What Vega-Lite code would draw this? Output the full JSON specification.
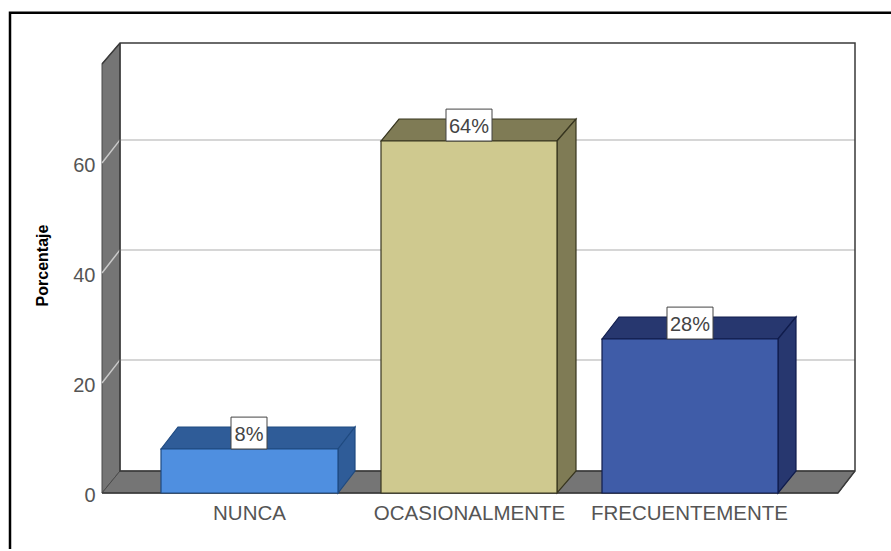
{
"$schema":"https://vega.github.io/schema/vega-lite/v6.json",
"width":753,"height":450,"autosize":"none",
"padding":{"left":102,"top":43,"right":36,"bottom":58},
"background":"white",
"config":{"view":{"stroke":null},"font":"Liberation Sans"},
"datasets":{
"polys":[
{"shape":"wall","part":"wall","x":102,"pct":78,"pct2":0},
{"shape":"wall","part":"wall","x":120,"pct":81.8,"pct2":4},
{"shape":"floor","part":"wall","x":102,"pct":0,"pct2":0},
{"shape":"floor","part":"wall","x":120,"pct":4,"pct2":0},
{"shape":"floor","part":"wall","x":838,"pct":4,"pct2":0},
{"shape":"floor","part":"wall","x":855,"pct":4,"pct2":4},
{"shape":"NUNCA top","part":"NUNCA dark","x":161,"pct":8,"pct2":8},
{"shape":"NUNCA top","part":"NUNCA dark","x":178,"pct":12,"pct2":8},
{"shape":"NUNCA top","part":"NUNCA dark","x":338,"pct":12,"pct2":8},
{"shape":"NUNCA top","part":"NUNCA dark","x":355,"pct":12,"pct2":12},
{"shape":"NUNCA side","part":"NUNCA dark","x":338,"pct":8,"pct2":0},
{"shape":"NUNCA side","part":"NUNCA dark","x":355,"pct":12,"pct2":4},
{"shape":"NUNCA front","part":"NUNCA","x":161,"pct":8,"pct2":0},
{"shape":"NUNCA front","part":"NUNCA","x":338,"pct":8,"pct2":0},
{"shape":"OCAS top","part":"OCAS dark","x":381,"pct":64,"pct2":64},
{"shape":"OCAS top","part":"OCAS dark","x":399,"pct":68,"pct2":64},
{"shape":"OCAS top","part":"OCAS dark","x":557,"pct":68,"pct2":64},
{"shape":"OCAS top","part":"OCAS dark","x":576,"pct":68,"pct2":68},
{"shape":"OCAS side","part":"OCAS dark","x":557,"pct":64,"pct2":0},
{"shape":"OCAS side","part":"OCAS dark","x":576,"pct":68,"pct2":4},
{"shape":"OCAS front","part":"OCAS","x":381,"pct":64,"pct2":0},
{"shape":"OCAS front","part":"OCAS","x":557,"pct":64,"pct2":0},
{"shape":"FREC top","part":"FREC dark","x":602,"pct":28,"pct2":28},
{"shape":"FREC top","part":"FREC dark","x":619,"pct":32,"pct2":28},
{"shape":"FREC top","part":"FREC dark","x":778,"pct":32,"pct2":28},
{"shape":"FREC top","part":"FREC dark","x":796,"pct":32,"pct2":32},
{"shape":"FREC side","part":"FREC dark","x":778,"pct":28,"pct2":0},
{"shape":"FREC side","part":"FREC dark","x":796,"pct":32,"pct2":4},
{"shape":"FREC front","part":"FREC","x":602,"pct":28,"pct2":0},
{"shape":"FREC front","part":"FREC","x":778,"pct":28,"pct2":0}
],
"grid":[
{"g":"60","i":1,"x":102,"pct":60},{"g":"60","i":2,"x":120,"pct":64.2},{"g":"60","i":3,"x":855,"pct":64.2},
{"g":"40","i":1,"x":102,"pct":40},{"g":"40","i":2,"x":120,"pct":44.2},{"g":"40","i":3,"x":855,"pct":44.2},
{"g":"20","i":1,"x":102,"pct":20},{"g":"20","i":2,"x":120,"pct":24.2},{"g":"20","i":3,"x":855,"pct":24.2}
],
"edges":[
{"g":"back","i":1,"x":102,"pct":78},{"g":"back","i":2,"x":120,"pct":81.8},{"g":"back","i":3,"x":855,"pct":81.8},{"g":"back","i":4,"x":855,"pct":4},{"g":"back","i":5,"x":838,"pct":0},{"g":"back","i":6,"x":102,"pct":0},
{"g":"inner","i":1,"x":120,"pct":81.8},{"g":"inner","i":2,"x":120,"pct":4},{"g":"inner","i":3,"x":855,"pct":4}
],
"frame":[
{"g":"frame","i":1,"x":10,"pct":-10.2},{"g":"frame","i":2,"x":10,"pct":87.3},{"g":"frame","i":3,"x":891,"pct":87.3}
],
"labels":[
{"label":"8%","x":231,"x2":267,"pct":8,"pct2":13.8,"cx":249,"cy":10.6},
{"label":"64%","x":446,"x2":492,"pct":64,"pct2":69.8,"cx":469,"cy":66.6},
{"label":"28%","x":667,"x2":713,"pct":28,"pct2":33.8,"cx":690,"cy":30.6}
]
},
"layer":[
{"data":{"name":"polys"},"transform":[{"filter":"datum.shape=='wall'||datum.shape=='floor'"}],
 "mark":{"type":"area","stroke":"#4a4a4a","strokeWidth":1,"clip":false},
 "encoding":{
  "x":{"field":"x","type":"quantitative","scale":{"domain":[102,855],"nice":false,"zero":false},
   "axis":{"values":[249,469,689],"labelExpr":"datum.value==249?'NUNCA':datum.value==469?'OCASIONALMENTE':'FRECUENTEMENTE'","title":null,"domain":false,"ticks":false,"grid":false,"labelFontSize":20.5,"labelColor":"#555","labelFont":"Liberation Sans","labelPadding":10,"labelBaseline":"top","labelFlush":false,"labelOverlap":false,"labelLimit":400}},
  "y":{"field":"pct","type":"quantitative","scale":{"domain":[0,81.82],"nice":false,"zero":false},
   "axis":{"values":[0,20,40,60],"title":"Porcentaje","titleFontSize":16,"titleFontWeight":"bold","titleColor":"#000","titleFont":"Liberation Sans","titlePadding":22,"titleY":222,"domain":false,"ticks":false,"grid":false,"labelFontSize":20,"labelColor":"#555","labelFont":"Liberation Sans","labelPadding":7,"labelOffset":2,"labelFlush":false}},
  "y2":{"field":"pct2"},
  "detail":{"field":"shape"},
  "color":{"field":"part","type":"nominal","legend":null,"scale":{"domain":["wall","NUNCA","NUNCA dark","OCAS","OCAS dark","FREC","FREC dark"],"range":["#757575","#4f8fe0","#2f5c98","#cfc98f","#7f7b55","#3f5ca8","#27376f"]}}
 }},
{"data":{"name":"grid"},"mark":{"type":"line","stroke":"#c9c9c9","strokeWidth":1.5},
 "encoding":{"x":{"field":"x","type":"quantitative"},"y":{"field":"pct","type":"quantitative"},"detail":{"field":"g"},"order":{"field":"i"}}},
{"data":{"name":"edges"},"mark":{"type":"line","stroke":"#3a3a3a","strokeWidth":1.5},
 "encoding":{"x":{"field":"x","type":"quantitative"},"y":{"field":"pct","type":"quantitative"},"detail":{"field":"g"},"order":{"field":"i"}}},
{"data":{"name":"frame"},"mark":{"type":"line","stroke":"#000","strokeWidth":2.5,"clip":false},
 "encoding":{"x":{"field":"x","type":"quantitative"},"y":{"field":"pct","type":"quantitative"},"detail":{"field":"g"},"order":{"field":"i"}}},
{"data":{"name":"polys"},"transform":[{"filter":"datum.shape!='wall'&&datum.shape!='floor'"}],
 "mark":{"type":"area","strokeWidth":1.2},
 "encoding":{
  "x":{"field":"x","type":"quantitative"},"y":{"field":"pct","type":"quantitative"},"y2":{"field":"pct2"},
  "detail":{"field":"shape"},
  "color":{"field":"part","type":"nominal","legend":null},
  "stroke":{"field":"part","type":"nominal","legend":null,"scale":{"domain":["NUNCA","NUNCA dark","OCAS","OCAS dark","FREC","FREC dark"],"range":["#1f4a80","#1f4a80","#37351f","#37351f","#101c4c","#101c4c"]}}
 }},
{"data":{"name":"labels"},"mark":{"type":"rect","fill":"white","stroke":"#444","strokeWidth":1},
 "encoding":{"x":{"field":"x","type":"quantitative"},"x2":{"field":"x2"},"y":{"field":"pct","type":"quantitative"},"y2":{"field":"pct2"}}},
{"data":{"name":"labels"},"mark":{"type":"text","fontSize":20,"fill":"#444","font":"Liberation Sans","baseline":"middle","align":"center"},
 "encoding":{"x":{"field":"cx","type":"quantitative"},"y":{"field":"cy","type":"quantitative"},"text":{"field":"label"}}}
]
}
